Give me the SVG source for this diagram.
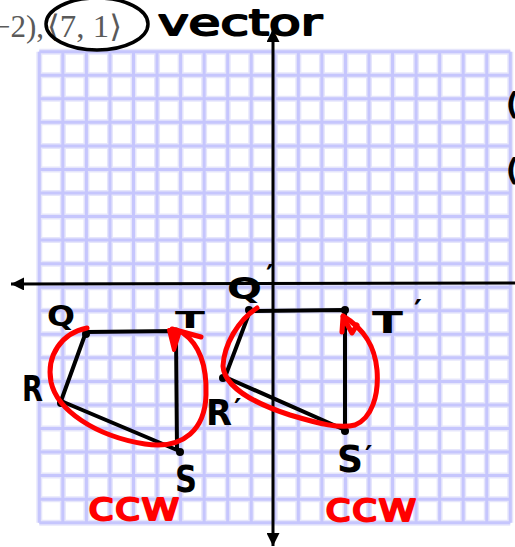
<svg xmlns="http://www.w3.org/2000/svg" width="515" height="547" viewBox="0 0 515 547">
<defs>
<style>
.gridHalo{fill:none;stroke:#e6e6fb;stroke-width:6}
.grid{fill:none;stroke:#c6c6fd;stroke-width:3}
.axis{fill:none;stroke:#000;stroke-width:3}
.edge{fill:none;stroke:#000;stroke-width:4;stroke-linecap:round;stroke-linejoin:round}
.dot{fill:#000}
.red{fill:none;stroke:#f00;stroke-width:5;stroke-linecap:round;stroke-linejoin:round}
.redfill{fill:#f00;stroke:#f00;stroke-width:4;stroke-linejoin:round}
.lbl{font-family:"DejaVu Sans","Liberation Sans",sans-serif;font-weight:bold;fill:#000}
.hand{font-family:"DejaVu Sans","Liberation Sans",sans-serif;font-weight:normal;stroke-width:2;stroke-linejoin:round}
.print{font-family:"Liberation Serif","DejaVu Serif",serif;fill:#5a5a5a}
</style>
<marker id="ah" viewBox="0 0 12 12" refX="12" refY="6" markerWidth="13" markerHeight="13" markerUnits="userSpaceOnUse" orient="auto-start-reverse">
<path d="M0,0 L12,6 L0,12 Z" fill="#000"/>
</marker>
</defs>
<rect width="515" height="547" fill="#fff"/>

<g id="grid">
<path class="gridHalo" d="M39.3 51.7V522.7M62.85 51.7V522.7M86.4 51.7V522.7M109.95 51.7V522.7M133.5 51.7V522.7M157.05 51.7V522.7M180.6 51.7V522.7M204.15 51.7V522.7M227.7 51.7V522.7M251.25 51.7V522.7M274.8 51.7V522.7M298.35 51.7V522.7M321.9 51.7V522.7M345.45 51.7V522.7M369 51.7V522.7M392.55 51.7V522.7M416.1 51.7V522.7M439.65 51.7V522.7M463.2 51.7V522.7M486.75 51.7V522.7M510.3 51.7V522.7M39.3 51.7H510.3M39.3 75.25H510.3M39.3 98.8H510.3M39.3 122.35H510.3M39.3 145.9H510.3M39.3 169.45H510.3M39.3 193H510.3M39.3 216.55H510.3M39.3 240.1H510.3M39.3 263.65H510.3M39.3 287.2H510.3M39.3 310.75H510.3M39.3 334.3H510.3M39.3 357.85H510.3M39.3 381.4H510.3M39.3 404.95H510.3M39.3 428.5H510.3M39.3 452.05H510.3M39.3 475.6H510.3M39.3 499.15H510.3M39.3 522.7H510.3"/>
<path class="grid" d="M39.3 51.7V522.7M62.85 51.7V522.7M86.4 51.7V522.7M109.95 51.7V522.7M133.5 51.7V522.7M157.05 51.7V522.7M180.6 51.7V522.7M204.15 51.7V522.7M227.7 51.7V522.7M251.25 51.7V522.7M274.8 51.7V522.7M298.35 51.7V522.7M321.9 51.7V522.7M345.45 51.7V522.7M369 51.7V522.7M392.55 51.7V522.7M416.1 51.7V522.7M439.65 51.7V522.7M463.2 51.7V522.7M486.75 51.7V522.7M510.3 51.7V522.7M39.3 51.7H510.3M39.3 75.25H510.3M39.3 98.8H510.3M39.3 122.35H510.3M39.3 145.9H510.3M39.3 169.45H510.3M39.3 193H510.3M39.3 216.55H510.3M39.3 240.1H510.3M39.3 263.65H510.3M39.3 287.2H510.3M39.3 310.75H510.3M39.3 334.3H510.3M39.3 357.85H510.3M39.3 381.4H510.3M39.3 404.95H510.3M39.3 428.5H510.3M39.3 452.05H510.3M39.3 475.6H510.3M39.3 499.15H510.3M39.3 522.7H510.3"/>
</g>

<g id="axes">
<line class="axis" x1="273" y1="29" x2="273" y2="546" marker-start="url(#ah)" marker-end="url(#ah)"/>
<line class="axis" x1="11" y1="284" x2="515" y2="283" marker-start="url(#ah)"/>
</g>

<g id="header">
<text class="print" x="-7" y="37" font-size="31">−2),</text>
<text class="print" x="47" y="37" font-size="31" textLength="75" lengthAdjust="spacingAndGlyphs">⟨7, 1⟩</text>
<ellipse cx="97" cy="24" rx="51" ry="26" fill="none" stroke="#000" stroke-width="3.5"/>
<text class="hand" x="158" y="35" font-size="36" textLength="164" lengthAdjust="spacingAndGlyphs" fill="#000" stroke="#000">vector</text>
<text class="hand" x="507" y="114" font-size="28" fill="#000" stroke="#000">(</text>
<text class="hand" x="507" y="180" font-size="28" fill="#000" stroke="#000">(</text>
</g>

<g id="connectors">
<path class="edge" d="M86,332 L176,331 L177,450 L61,401 Z"/>
<path class="edge" d="M250,311 L345,310 L345,430 L225,377 Z"/>
</g>

<g id="node-Q">
<circle class="dot" cx="86" cy="334" r="4"/>
<text class="lbl" x="47" y="326" font-size="28" textLength="28" lengthAdjust="spacingAndGlyphs">Q</text>
</g>
<g id="node-T">
<circle class="dot" cx="176" cy="331" r="3.5"/>
<text class="lbl" x="175" y="328" font-size="23" textLength="30" lengthAdjust="spacingAndGlyphs">T</text>
</g>
<g id="node-R">
<circle class="dot" cx="61" cy="403" r="4"/>
<text class="lbl" x="22" y="401" font-size="36" textLength="21" lengthAdjust="spacingAndGlyphs">R</text>
</g>
<g id="node-S">
<circle class="dot" cx="180" cy="452" r="4"/>
<text class="lbl" x="175" y="492" font-size="38" textLength="22" lengthAdjust="spacingAndGlyphs">S</text>
</g>
<g id="node-Q-prime">
<circle class="dot" cx="249" cy="310" r="4"/>
<text class="lbl" x="227" y="299" font-size="31" textLength="35" lengthAdjust="spacingAndGlyphs">Q</text>
<text class="lbl" x="266" y="286" font-size="30">′</text>
</g>
<g id="node-T-prime">
<circle class="dot" cx="345" cy="310" r="4"/>
<text class="lbl" x="372" y="333" font-size="31" textLength="31" lengthAdjust="spacingAndGlyphs">T</text>
<text class="lbl" x="414" y="321" font-size="30">′</text>
</g>
<g id="node-R-prime">
<circle class="dot" cx="223" cy="378" r="4"/>
<text class="lbl" x="206" y="425" font-size="35" textLength="26" lengthAdjust="spacingAndGlyphs">R</text>
<text class="lbl" x="234" y="419" font-size="28">′</text>
</g>
<g id="node-S-prime">
<circle class="dot" cx="345" cy="431" r="4"/>
<text class="lbl" x="337" y="472" font-size="38" textLength="26" lengthAdjust="spacingAndGlyphs">S</text>
<text class="lbl" x="365" y="466" font-size="28">′</text>
</g>

<g id="annotations">
<path class="red" d="M87,328 C62,333 46,355 51,382 C57,410 95,436 145,444 C185,450 205,428 206,395 C207,365 200,345 183,333"/>
<path class="redfill" d="M169,330 L180,331 L174,350 Z"/>
<path class="red" d="M172,329 L201,337"/>
<path class="red" d="M257,308 C238,320 224,345 223,366 C224,385 250,402 290,415 C320,424 340,429 355,425 C372,418 379,395 377,370 C375,348 366,330 343,316"/>
<path class="red" d="M342,332 L343,317 L352,333 L357,325"/>
<text class="hand" x="88" y="520" font-size="40" textLength="92" lengthAdjust="spacingAndGlyphs" fill="#f00" stroke="#f00">ccw</text>
<text class="hand" x="325" y="521" font-size="40" textLength="92" lengthAdjust="spacingAndGlyphs" fill="#f00" stroke="#f00">ccw</text>
</g>
</svg>
